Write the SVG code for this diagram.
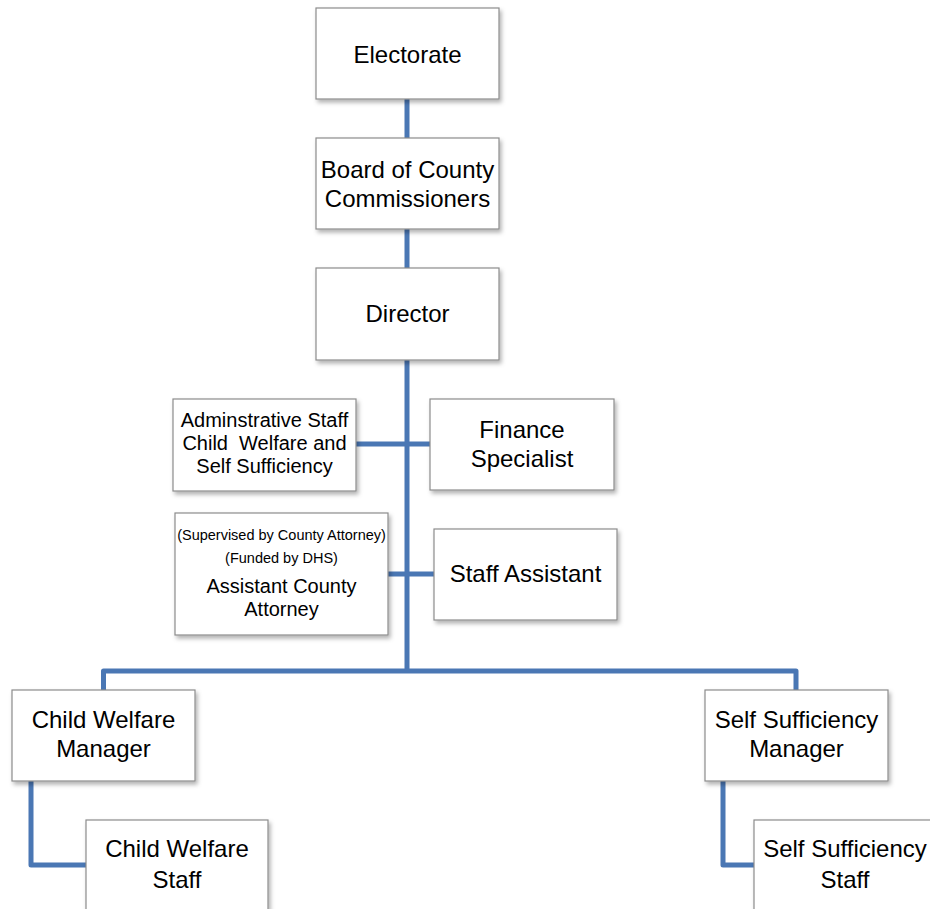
<svg xmlns="http://www.w3.org/2000/svg" width="930" height="909" viewBox="0 0 930 909">
<defs>
<filter id="sh" x="-10%" y="-10%" width="130%" height="140%">
<feDropShadow dx="2" dy="3" stdDeviation="2" flood-color="#000" flood-opacity="0.3"/>
</filter>
<style>
.box{fill:#fff;stroke:#8c8c8c;stroke-width:1.2;filter:url(#sh)}
.t{font-family:"Liberation Sans",Arial,sans-serif;fill:#000;text-anchor:middle}
.l{font-size:24px}
.m{font-size:20px}
.s{font-size:14.5px}
.c{fill:none;stroke:#4a77b4;stroke-width:5;stroke-linejoin:round}
</style>
</defs>
<rect width="930" height="909" fill="#fff"/>
<g id="connectors">
<path class="c" d="M407,99 V138 M407,229 V268 M407,360 V671"/>
<path class="c" d="M356,444 H430 M388,574 H434"/>
<path class="c" d="M103.5,690 V671 H796 V690"/>
<path class="c" d="M31,781 V865 H86"/>
<path class="c" d="M723,781 V865 H754"/>
</g>
<g id="electorate"><rect class="box" x="316" y="8" width="183" height="91"/><text class="t l" x="407.5" y="63">Electorate</text></g>
<g id="board"><rect class="box" x="316" y="138" width="183" height="91"/><text class="t l" x="407.5" y="178">Board of County</text><text class="t l" x="407.5" y="207">Commissioners</text></g>
<g id="director"><rect class="box" x="316" y="268" width="183" height="92"/><text class="t l" x="407.5" y="322">Director</text></g>
<g id="admin"><rect class="box" x="173" y="399" width="183" height="92"/><text class="t m" x="264.5" y="427">Adminstrative Staff</text><text class="t m" x="264.5" y="450" style="white-space:pre">Child  Welfare and</text><text class="t m" x="264.5" y="473">Self Sufficiency</text></g>
<g id="finance"><rect class="box" x="430" y="399" width="184" height="91"/><text class="t l" x="522" y="438">Finance</text><text class="t l" x="522" y="467">Specialist</text></g>
<g id="attorney"><rect class="box" x="175" y="513" width="213" height="122"/><text class="t s" x="281.5" y="540">(Supervised by County Attorney)</text><text class="t s" x="281.5" y="563">(Funded by DHS)</text><text class="t m" x="281.5" y="593">Assistant County</text><text class="t m" x="281.5" y="616">Attorney</text></g>
<g id="staffassistant"><rect class="box" x="434" y="529" width="183" height="91"/><text class="t l" x="525.5" y="582">Staff Assistant</text></g>
<g id="cwmanager"><rect class="box" x="12" y="690" width="183" height="91"/><text class="t l" x="103.5" y="728">Child Welfare</text><text class="t l" x="103.5" y="757">Manager</text></g>
<g id="cwstaff"><rect class="box" x="86" y="820" width="182" height="100"/><text class="t l" x="177" y="857">Child Welfare</text><text class="t l" x="177" y="888">Staff</text></g>
<g id="ssmanager"><rect class="box" x="705" y="690" width="183" height="91"/><text class="t l" x="796.5" y="728">Self Sufficiency</text><text class="t l" x="796.5" y="757">Manager</text></g>
<g id="ssstaff"><rect class="box" x="754" y="820" width="183" height="100"/><text class="t l" x="845" y="857">Self Sufficiency</text><text class="t l" x="845" y="888">Staff</text></g>
</svg>
